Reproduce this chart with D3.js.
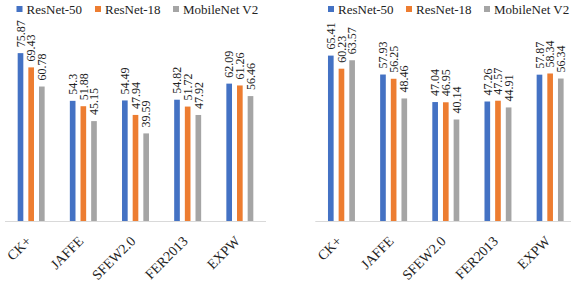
<!DOCTYPE html>
<html>
<head>
<meta charset="utf-8">
<script src="https://cdn.jsdelivr.net/npm/d3@7"></script>
<style>
  body { margin: 0; background: #fff; }
  svg { display: block; font-family: "Liberation Serif", "Times New Roman", serif; }
</style>
</head>
<body>
<svg id="chart" width="571" height="289"></svg>
<script>
// categories and series
const categories = ["CK+", "JAFFE", "SFEW2.0", "FER2013", "EXPW"]
const seriesNames = ["ResNet-50", "ResNet-18", "MobileNet V2"]
const colors = ["#4472C4", "#ED7D31", "#A5A5A5"]

// left panel values
const leftResNet50 = [75.87, 54.3, 54.49, 54.82, 62.09]
const leftResNet18 = [69.43, 51.88, 47.94, 51.72, 61.26]
const leftMobileNet = [60.78, 45.15, 39.59, 47.92, 56.46]

// right panel values
const rightResNet50 = [65.41, 57.93, 47.04, 47.26, 57.87]
const rightResNet18 = [60.23, 56.25, 46.95, 47.57, 58.34]
const rightMobileNet = [63.57, 48.46, 40.14, 44.91, 56.34]

const svg = d3.select("#chart")

function drawPanel(values, xRange, yMax, legendX) {
    const g = svg.append("g")

    /**
     * Scales: outer band per dataset, inner band per model
     */
    const x0 = d3.scaleBand()
        .domain(categories)
        .range(xRange)
        .paddingInner(0.483)
        .paddingOuter(0.243)

    const x1 = d3.scaleBand()
        .domain(seriesNames)
        .range([0, x0.bandwidth()])
        .paddingInner(0.47)

    const y = d3.scaleLinear()
        .domain([0, yMax])
        .range([221, 44])

    const rows = []
    categories.forEach((c, i) => {
        seriesNames.forEach((s, j) => {
            rows.push({ cat: c, series: s, idx: j, value: values[j][i] })
        })
    })

    // axis line
    g.append("line")
        .attr("x1", xRange[0]).attr("x2", xRange[1])
        .attr("y1", y(0) + 0.5).attr("y2", y(0) + 0.5)
        .attr("stroke", "#d9d9d9")
        .attr("stroke-width", 1)

    // bars
    g.selectAll(".bar")
        .data(rows)
        .enter()
        .append("rect")
        .attr("class", "bar")
        .attr("x", d => x0(d.cat) + x1(d.series))
        .attr("y", d => y(d.value))
        .attr("width", x1.bandwidth())
        .attr("height", d => y(0) - y(d.value))
        .attr("fill", d => colors[d.idx])

    // value labels, rotated
    g.selectAll(".val")
        .data(rows)
        .enter()
        .append("text")
        .attr("class", "val")
        .attr("transform", d => "translate(" + (x0(d.cat) + x1(d.series) + x1.bandwidth() / 2) + "," + (y(d.value) - 6) + ") rotate(-90)")
        .attr("dy", "0.35em")
        .attr("text-anchor", "start")
        .attr("font-size", 12)
        .attr("fill", "#222")
        .text(d => d.value)

    // category labels at -45deg
    g.selectAll(".cat")
        .data(categories)
        .enter()
        .append("text")
        .attr("class", "cat")
        .attr("transform", d => "translate(" + (x0(d) + x0.bandwidth() / 2 + 1) + "," + 242 + ") rotate(-45)")
        .attr("text-anchor", "end")
        .attr("font-size", 14)
        .attr("fill", "#222")
        .text(d => d)

    // legend
    const legend = g.selectAll(".legend")
        .data(seriesNames)
        .enter()
        .append("g")
        .attr("class", "legend")
        .attr("transform", (d, i) => "translate(" + legendX[i] + ",0)")

    legend.append("rect")
        .attr("x", 0).attr("y", 6)
        .attr("width", 6).attr("height", 6)
        .attr("fill", (d, i) => colors[i])

    legend.append("text")
        .attr("x", 10).attr("y", 14)
        .attr("font-size", 13)
        .attr("fill", "#222")
        .text(d => d)
}

drawPanel([leftResNet50, leftResNet18, leftMobileNet], [5, 266], 80, [16.5, 95, 173])
drawPanel([rightResNet50, rightResNet18, rightMobileNet], [315.3, 576.3], 70, [328, 406, 484])
</script>
</body>
</html>
